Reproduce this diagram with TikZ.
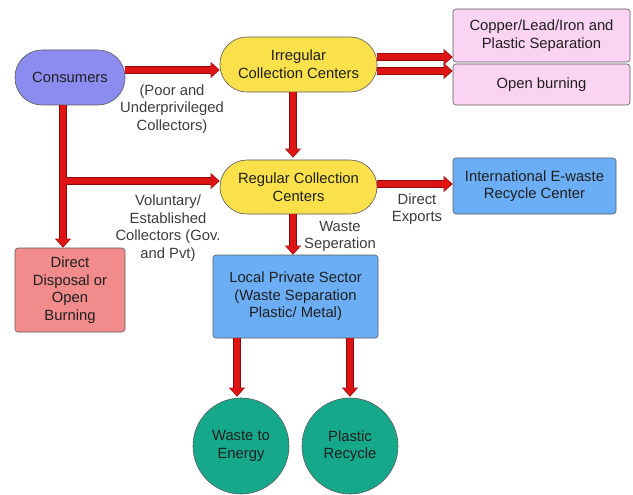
\documentclass[tikz,border=0pt]{standalone}
\usepackage{fontspec}
\setmainfont{Liberation Sans}
\usetikzlibrary{arrows.meta}
\definecolor{cons}{RGB}{140,140,240}
\definecolor{yel}{RGB}{250,225,75}
\definecolor{pinkb}{RGB}{251,212,243}
\definecolor{blueb}{RGB}{108,174,245}
\definecolor{redb}{RGB}{242,139,139}
\definecolor{teal}{RGB}{22,168,138}
\definecolor{arrred}{RGB}{222,20,20}
\definecolor{arrdark}{RGB}{140,10,10}
\definecolor{bord}{RGB}{90,90,90}
\definecolor{lbl}{RGB}{60,60,60}
\begin{document}
\begin{tikzpicture}[x=1pt,y=-1pt,
  every node/.style={font=\fontsize{14.8}{17.6}\selectfont, align=center, text=black!88},
  box/.style={draw=bord, line width=0.6pt, inner sep=0pt, rounded corners=3pt},
  pill/.style={draw=bord, line width=0.6pt, inner sep=0pt, rounded corners=27pt},
  circ/.style={circle, draw=bord, line width=0.6pt, inner sep=0pt, minimum size=96pt, fill=teal},
  lab/.style={text=lbl},
  arrout/.style={draw=arrdark, line width=8.4pt, -{Triangle[width=15.5pt,length=9pt]}},
  arrin/.style={draw=arrred, line width=6.6pt, shorten >=0.9pt, -{Triangle[width=13pt,length=7.6pt]}},
]
\useasboundingbox (0,0) rectangle (633,495);

\node[pill, fill=cons, minimum width=110pt, minimum height=55pt] (cons) at (70,77.5) {Consumers};
\node[pill, fill=yel, minimum width=157pt, minimum height=55pt] (irr) at (298.5,64.5) {Irregular\\Collection Centers};
\node[box, fill=pinkb, minimum width=177pt, minimum height=53pt] (copper) at (541.5,35.5) {Copper/Lead/Iron and\\Plastic Separation};
\node[box, fill=pinkb, minimum width=177pt, minimum height=41pt] (burn) at (541.5,84.5) {Open burning};
\node[pill, fill=yel, minimum width=157pt, minimum height=54pt] (reg) at (298.5,187) {Regular Collection\\Centers};
\node[box, fill=blueb, minimum width=163pt, minimum height=56pt] (intl) at (534.5,186) {International E-waste\\Recycle Center};
\node[box, fill=redb, minimum width=110pt, minimum height=84pt] (disp) at (70,290) {Direct\\Disposal or\\Open\\Burning};
\node[box, fill=blueb, minimum width=165pt, minimum height=83pt] (local) at (295.5,296.5) {Local Private Sector\\(Waste Separation\\Plastic/ Metal)};
\node[circ] (wte) at (241,446) {Waste to\\Energy};
\node[circ] (plast) at (350,446) {Plastic\\Recycle};

\node[lab] (lpoor) at (172,109) {(Poor and\\Underprivileged\\Collectors)};
\node[lab] (lvol) at (168,228) {Voluntary/\\Established\\Collectors (Gov.\\and Pvt)};
\node[lab] (lexp) at (417,209) {Direct\\Exports};
\node[lab] (lsep) at (340,236.5) {Waste\\Seperation};

\coordinate (br) at (59.7,181);

\foreach \s in {arrout,arrin}{
  \draw[\s] ([yshift=7.5pt]cons.east) -- ([yshift=-5.5pt]irr.west);
  \draw[\s] ([yshift=7.5pt]irr.east) -- ([yshift=-21.5pt]copper.west);
  \draw[\s] ([yshift=-6.5pt]irr.east) -- ([yshift=13.5pt]burn.west);
  \draw[\s] ([xshift=-5.5pt]irr.south) -- ([xshift=-5.5pt,yshift=2pt]reg.north);
  \draw[\s] (br) -- ([yshift=6pt]reg.west);
  \draw[\s] ([xshift=-7pt]cons.south) -- ([xshift=-7pt]disp.north);
  \draw[\s] ([yshift=3pt]reg.east) -- ([yshift=2pt]intl.west);
  \draw[\s] ([xshift=-5.5pt]reg.south) -- ([xshift=-2.5pt]local.north);
  \draw[\s] ([xshift=-58.5pt]local.south) -- ([xshift=-4pt,yshift=1pt]wte.north);
  \draw[\s] ([xshift=54.5pt]local.south) -- ([yshift=1pt]plast.north);
}
\end{tikzpicture}
\end{document}
